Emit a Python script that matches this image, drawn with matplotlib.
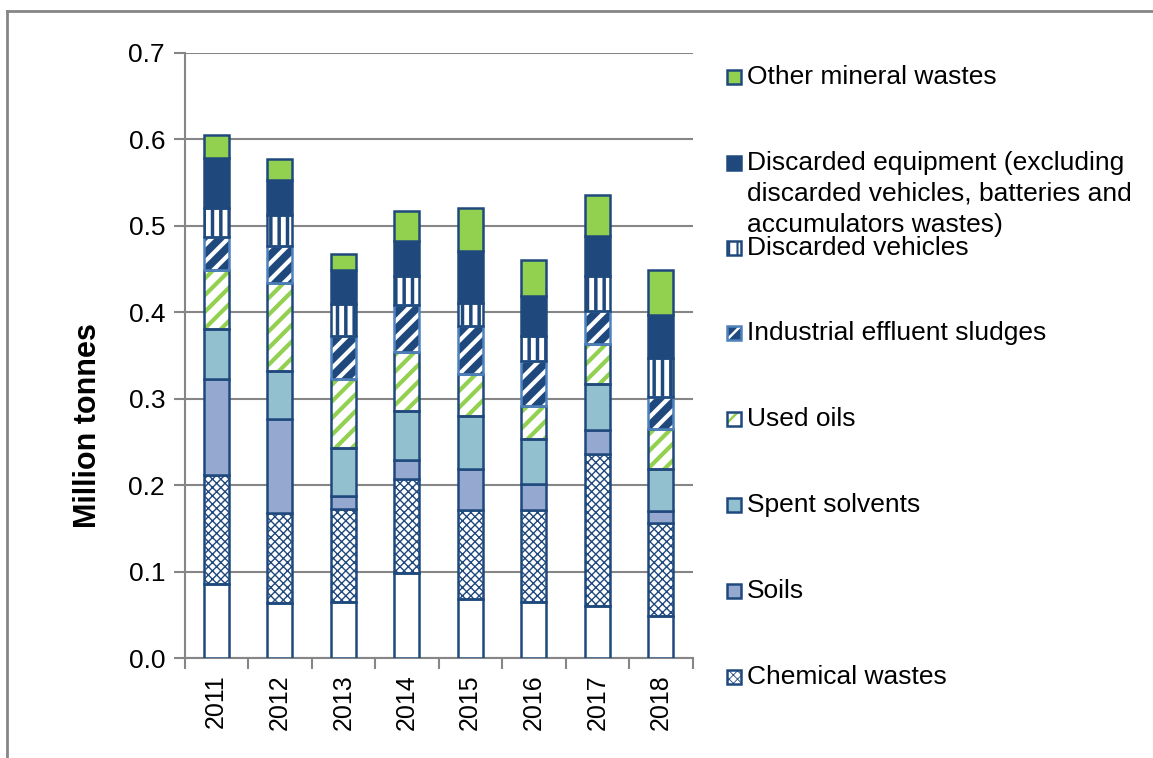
import matplotlib.pyplot as plt
import numpy as np
from matplotlib.patches import Rectangle
from matplotlib.lines import Line2D

plt.rcParams["font.family"] = ["Liberation Sans", "DejaVu Sans"]

years = ["2011", "2012", "2013", "2014", "2015", "2016", "2017", "2018"]

# million tonnes, bottom to top
other_bottom = [0.086, 0.064, 0.065, 0.098, 0.068, 0.065, 0.060, 0.049]
chemical = [0.126, 0.104, 0.107, 0.109, 0.103, 0.106, 0.176, 0.107]
soils = [0.111, 0.109, 0.015, 0.022, 0.048, 0.030, 0.028, 0.014]
solvents = [0.058, 0.055, 0.056, 0.057, 0.061, 0.052, 0.053, 0.049]
used_oils = [0.068, 0.102, 0.080, 0.068, 0.049, 0.038, 0.046, 0.046]
sludges = [0.038, 0.043, 0.050, 0.055, 0.055, 0.053, 0.038, 0.037]
vehicles = [0.034, 0.036, 0.037, 0.033, 0.027, 0.028, 0.041, 0.045]
equipment = [0.057, 0.040, 0.039, 0.041, 0.060, 0.047, 0.046, 0.050]
mineral = [0.027, 0.024, 0.019, 0.034, 0.050, 0.041, 0.048, 0.052]

NAVY = "#1F497D"
GREEN = "#92D050"
GRID = "#868686"

# (values, label, face, hatch, hatch colour, outline colour)
series = [
    (other_bottom, None, "white", None, None, NAVY),
    (chemical, "Chemical wastes", "white", "xxxx", NAVY, NAVY),
    (soils, "Soils", "#95A9D0", None, None, NAVY),
    (solvents, "Spent solvents", "#93C0CF", None, None, NAVY),
    (used_oils, "Used oils", "white", "//", GREEN, NAVY),
    (sludges, "Industrial effluent sludges", NAVY, "//", "white", "#4F81BD"),
    (vehicles, "Discarded vehicles", "white", "||", NAVY, NAVY),
    (equipment, "Discarded equipment (excluding\ndiscarded vehicles, batteries and\naccumulators wastes)",
     NAVY, None, None, NAVY),
    (mineral, "Other mineral wastes", GREEN, None, None, NAVY),
]

fig = plt.figure(figsize=(11.53, 7.58), dpi=100)
ax = fig.add_axes([184.5 / 1153, 100 / 758, 508 / 1153, 605 / 758])

x = np.arange(len(years))
width = 0.40
bottom = np.zeros(len(years))

hatch_lw = {"xxxx": 1.0, "//": 3.0, "||": 2.5}


def hatched_bar(target, xs, vals, bot, face, hatch, hcol, ecol, w, lw):
    # hatch first (hatch takes the edge colour), then the outline on top
    if hatch:
        plt.rcParams["hatch.linewidth"] = hatch_lw[hatch]
        bars = target.bar(xs, vals, w, bottom=bot, color=face, edgecolor=hcol,
                          hatch=hatch, linewidth=0, zorder=3)
        for b in bars:
            if hasattr(b, "set_hatch_linewidth"):
                b.set_hatch_linewidth(hatch_lw[hatch])
    target.bar(xs, vals, w, bottom=bot, fill=(hatch is None), facecolor=face,
               edgecolor=ecol, linewidth=lw, zorder=4)


for vals, label, face, hatch, hcol, ecol in series:
    vals = np.array(vals)
    hatched_bar(ax, x, vals, bottom, face, hatch, hcol, ecol, width, 1.8)
    bottom += vals

ax.set_xlim(-0.5, len(years) - 0.5)
ax.set_ylim(0, 0.7)
yticks = np.arange(0, 0.71, 0.1)
ax.set_yticks(yticks)
ax.set_yticklabels([f"{v:.1f}" for v in yticks], fontsize=19)
ax.set_xticks(x)
ax.set_xticklabels(years, rotation=90, fontsize=18)
ax.set_xticks(np.arange(-0.5, len(years)), minor=True)
ax.tick_params(axis="x", which="major", length=0, pad=12)
ax.tick_params(axis="x", which="minor", length=8, width=1.5, color=GRID, direction="out")
ax.tick_params(axis="y", length=8, width=1.5, color=GRID, direction="out", pad=6)
ax.yaxis.grid(True, color=GRID, linewidth=1.5, zorder=0)
ax.set_axisbelow(True)
for side in ["top", "right"]:
    ax.spines[side].set_visible(False)
for side in ["left", "bottom"]:
    ax.spines[side].set_color(GRID)
    ax.spines[side].set_linewidth(1.5)
ax.set_ylabel("Million tonnes", fontsize=22, fontweight="bold")
ax.yaxis.set_label_coords(-0.16, 0.385)

# legend, top to bottom, placed like the Excel one
legend_y = [77, 163, 248, 333, 419, 505, 591, 677]
legend_items = [s for s in series if s[1] is not None][::-1]
for (vals, label, face, hatch, hcol, ecol), py in zip(legend_items, legend_y):
    fx = 727 / 1153
    fy = (758 - py - 7) / 758
    fw = 14 / 1153
    fh = 14 / 758
    if hatch:
        plt.rcParams["hatch.linewidth"] = hatch_lw[hatch] * 0.6
        fig.add_artist(Rectangle((fx, fy), fw, fh, transform=fig.transFigure,
                                 facecolor=face, edgecolor=hcol, hatch=hatch,
                                 linewidth=0))
    fig.add_artist(Rectangle((fx, fy), fw, fh, transform=fig.transFigure,
                             fill=(hatch is None), facecolor=face, edgecolor=ecol,
                             linewidth=1.8))
    fig.text(747 / 1153, (758 - py + 12) / 758, label, fontsize=19, va="top",
             ha="left", linespacing=1.36)

# outer frame (left and top only)
fig.add_artist(Line2D([7 / 1153, 7 / 1153], [0, 1 - 11 / 758], transform=fig.transFigure,
                      color=GRID, linewidth=2))
fig.add_artist(Line2D([7 / 1153, 1], [1 - 11 / 758, 1 - 11 / 758], transform=fig.transFigure,
                      color=GRID, linewidth=2))

fig.savefig("out.png", dpi=100)
